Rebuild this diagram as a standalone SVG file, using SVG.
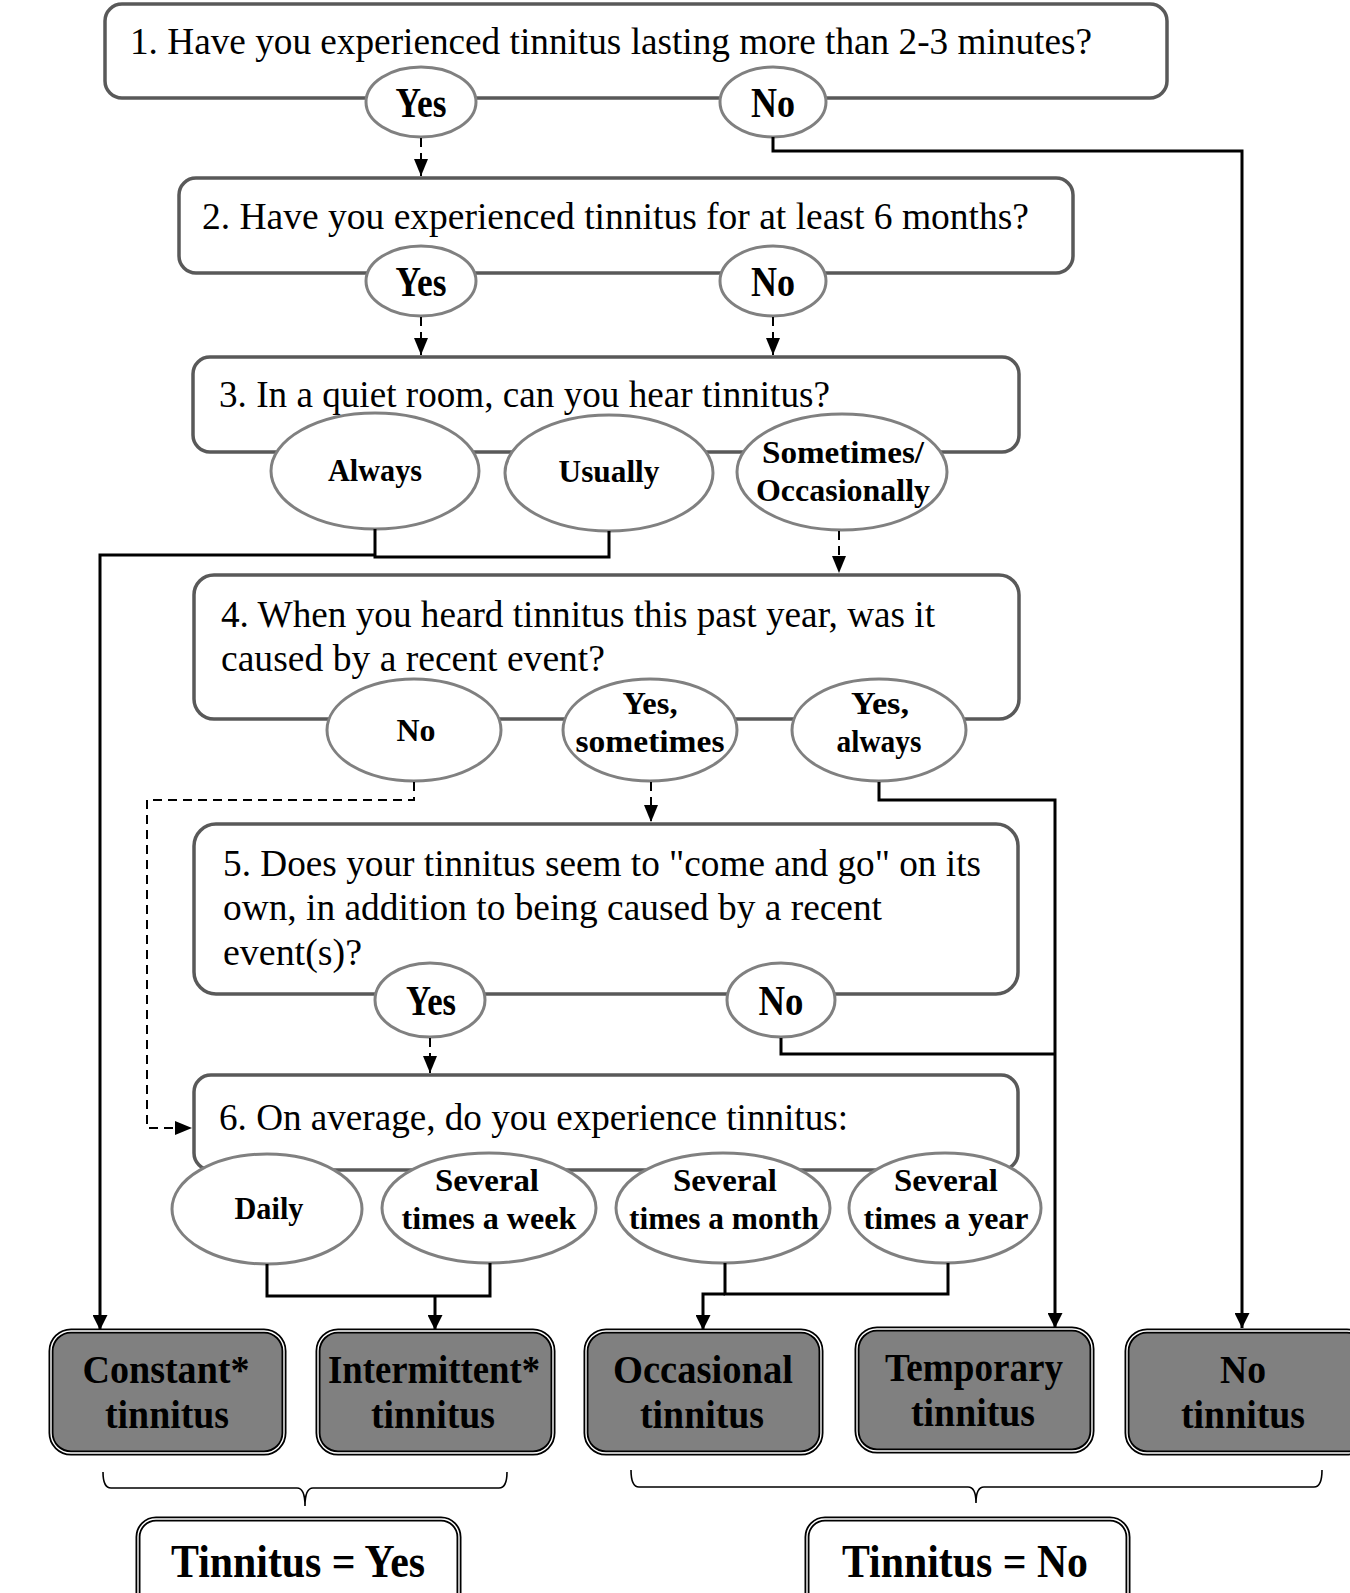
<svg xmlns="http://www.w3.org/2000/svg" width="1350" height="1593" viewBox="0 0 1350 1593">
<defs>
<style>
.q{fill:#fff;stroke:#595959;stroke-width:3.5}
.el{fill:#fff;stroke:#808080;stroke-width:3}
.qt{font-family:"Liberation Serif","Times New Roman",serif;font-size:38.5px;fill:#000}
.lb{font-family:"Liberation Serif","Times New Roman",serif;font-weight:bold;fill:#000;text-anchor:middle}
.big{font-size:42px}
.sm{font-size:31px}
.ob{fill:#808080;stroke:#000;stroke-width:5}
.ow{fill:none;stroke:#fff;stroke-width:1.4}
.rb{fill:#fff;stroke:#000;stroke-width:5}
.ot{font-family:"Liberation Serif","Times New Roman",serif;font-weight:bold;font-size:41px;fill:#000;text-anchor:middle}
.rt{font-family:"Liberation Serif","Times New Roman",serif;font-weight:bold;font-size:46px;fill:#000}
.c{fill:none;stroke:#000;stroke-width:3}
.d{fill:none;stroke:#000;stroke-width:2;stroke-dasharray:9 6}
.br{fill:none;stroke:#000;stroke-width:1.6}
</style>
<marker id="ah" viewBox="0 0 10 10" refX="10" refY="5" markerWidth="5" markerHeight="5" markerUnits="strokeWidth" orient="auto">
<path d="M0,0 L10,5 L0,10 z" fill="#000"/>
</marker>
<marker id="ahd" viewBox="0 0 10 10" refX="10" refY="5" markerWidth="8.5" markerHeight="7" markerUnits="strokeWidth" orient="auto" preserveAspectRatio="none">
<path d="M0,0 L10,5 L0,10 z" fill="#000"/>
</marker>
</defs>

<g id="q1">
<rect class="q" x="105" y="4" width="1062" height="94" rx="17"/>
<text class="qt" x="130" y="54" textLength="962" lengthAdjust="spacingAndGlyphs">1. Have you experienced tinnitus lasting  more than 2-3 minutes?</text>
<g id="q1-yes"><ellipse class="el" cx="421" cy="102" rx="55" ry="35"/><text class="lb big" x="421" y="117" textLength="51" lengthAdjust="spacingAndGlyphs">Yes</text></g>
<g id="q1-no"><ellipse class="el" cx="773" cy="102" rx="53" ry="35"/><text class="lb big" x="773" y="117" textLength="44" lengthAdjust="spacingAndGlyphs">No</text></g>
</g>

<g id="q2">
<rect class="q" x="179" y="178" width="894" height="95" rx="17"/>
<text class="qt" x="202" y="229" textLength="827" lengthAdjust="spacingAndGlyphs">2. Have you experienced tinnitus for at least 6 months?</text>
<g id="q2-yes"><ellipse class="el" cx="421" cy="281" rx="55" ry="35"/><text class="lb big" x="421" y="296" textLength="51" lengthAdjust="spacingAndGlyphs">Yes</text></g>
<g id="q2-no"><ellipse class="el" cx="773" cy="281" rx="53" ry="35"/><text class="lb big" x="773" y="296" textLength="44" lengthAdjust="spacingAndGlyphs">No</text></g>
</g>

<g id="q3">
<rect class="q" x="193" y="357" width="826" height="95" rx="17"/>
<text class="qt" x="219" y="407" textLength="611" lengthAdjust="spacingAndGlyphs">3. In a quiet room, can you hear tinnitus?</text>
<g id="q3-always"><ellipse class="el" cx="375" cy="471" rx="104" ry="58"/><text class="lb sm" x="375" y="481" textLength="94" lengthAdjust="spacingAndGlyphs">Always</text></g>
<g id="q3-usually"><ellipse class="el" cx="609" cy="473" rx="104" ry="58"/><text class="lb sm" x="609" y="482" textLength="101" lengthAdjust="spacingAndGlyphs">Usually</text></g>
<g id="q3-sometimes"><ellipse class="el" cx="842" cy="472" rx="105" ry="58"/><text class="lb sm" x="843" y="463" textLength="162" lengthAdjust="spacingAndGlyphs">Sometimes/</text><text class="lb sm" x="843" y="501" textLength="174" lengthAdjust="spacingAndGlyphs">Occasionally</text></g>
</g>

<g id="q4">
<rect class="q" x="194" y="575" width="825" height="144" rx="20"/>
<text class="qt" x="221" y="627" textLength="714" lengthAdjust="spacingAndGlyphs">4. When you heard tinnitus this past year, was it</text>
<text class="qt" x="221" y="671" textLength="384" lengthAdjust="spacingAndGlyphs">caused by a recent event?</text>
<g id="q4-no"><ellipse class="el" cx="414" cy="730" rx="87" ry="51"/><text class="lb sm" x="416" y="741" textLength="39" lengthAdjust="spacingAndGlyphs">No</text></g>
<g id="q4-sometimes"><ellipse class="el" cx="650" cy="730" rx="87" ry="51"/><text class="lb sm" x="650" y="714" textLength="55" lengthAdjust="spacingAndGlyphs">Yes,</text><text class="lb sm" x="650" y="752" textLength="149" lengthAdjust="spacingAndGlyphs">sometimes</text></g>
<g id="q4-always"><ellipse class="el" cx="879" cy="730" rx="87" ry="51"/><text class="lb sm" x="880" y="714" textLength="58" lengthAdjust="spacingAndGlyphs">Yes,</text><text class="lb sm" x="879" y="752" textLength="85" lengthAdjust="spacingAndGlyphs">always</text></g>
</g>

<g id="q5">
<rect class="q" x="194" y="824" width="824" height="170" rx="22"/>
<text class="qt" x="223" y="876" textLength="758" lengthAdjust="spacingAndGlyphs">5. Does your tinnitus seem to "come and go" on its</text>
<text class="qt" x="223" y="920" textLength="659" lengthAdjust="spacingAndGlyphs">own, in addition to being caused by a recent</text>
<text class="qt" x="223" y="965" textLength="139" lengthAdjust="spacingAndGlyphs">event(s)?</text>
<g id="q5-yes"><ellipse class="el" cx="430" cy="1000" rx="55" ry="37"/><text class="lb big" x="431" y="1015" textLength="50" lengthAdjust="spacingAndGlyphs">Yes</text></g>
<g id="q5-no"><ellipse class="el" cx="781" cy="1000" rx="54" ry="37"/><text class="lb big" x="781" y="1015" textLength="45" lengthAdjust="spacingAndGlyphs">No</text></g>
</g>

<g id="q6">
<rect class="q" x="194" y="1075" width="824" height="95" rx="17"/>
<text class="qt" x="219" y="1130" textLength="629" lengthAdjust="spacingAndGlyphs">6. On average, do you experience tinnitus:</text>
<g id="q6-daily"><ellipse class="el" cx="267" cy="1209" rx="95" ry="55"/><text class="lb sm" x="269" y="1219" textLength="69" lengthAdjust="spacingAndGlyphs">Daily</text></g>
<g id="q6-week"><ellipse class="el" cx="489" cy="1208" rx="107" ry="55"/><text class="lb sm" x="487" y="1191" textLength="104" lengthAdjust="spacingAndGlyphs">Several</text><text class="lb sm" x="489" y="1229" textLength="175" lengthAdjust="spacingAndGlyphs">times a week</text></g>
<g id="q6-month"><ellipse class="el" cx="723" cy="1208" rx="107" ry="55"/><text class="lb sm" x="725" y="1191" textLength="104" lengthAdjust="spacingAndGlyphs">Several</text><text class="lb sm" x="724" y="1229" textLength="190" lengthAdjust="spacingAndGlyphs">times a month</text></g>
<g id="q6-year"><ellipse class="el" cx="945" cy="1208" rx="96" ry="55"/><text class="lb sm" x="946" y="1191" textLength="104" lengthAdjust="spacingAndGlyphs">Several</text><text class="lb sm" x="946" y="1229" textLength="165" lengthAdjust="spacingAndGlyphs">times a year</text></g>
</g>

<g id="out-constant"><rect class="ob" x="51" y="1331" width="233" height="122" rx="20"/><rect class="ow" x="51" y="1331" width="233" height="122" rx="20"/><text class="ot" x="166" y="1383" textLength="167" lengthAdjust="spacingAndGlyphs">Constant*</text><text class="ot" x="167" y="1428" textLength="124" lengthAdjust="spacingAndGlyphs">tinnitus</text></g>
<g id="out-intermittent"><rect class="ob" x="318" y="1331" width="235" height="122" rx="20"/><rect class="ow" x="318" y="1331" width="235" height="122" rx="20"/><text class="ot" x="434" y="1383" textLength="212" lengthAdjust="spacingAndGlyphs">Intermittent*</text><text class="ot" x="433" y="1428" textLength="124" lengthAdjust="spacingAndGlyphs">tinnitus</text></g>
<g id="out-occasional"><rect class="ob" x="586" y="1331" width="235" height="122" rx="20"/><rect class="ow" x="586" y="1331" width="235" height="122" rx="20"/><text class="ot" x="703" y="1383" textLength="180" lengthAdjust="spacingAndGlyphs">Occasional</text><text class="ot" x="702" y="1428" textLength="124" lengthAdjust="spacingAndGlyphs">tinnitus</text></g>
<g id="out-temporary"><rect class="ob" x="857" y="1329" width="235" height="122" rx="20"/><rect class="ow" x="857" y="1329" width="235" height="122" rx="20"/><text class="ot" x="974" y="1381" textLength="178" lengthAdjust="spacingAndGlyphs">Temporary</text><text class="ot" x="973" y="1426" textLength="124" lengthAdjust="spacingAndGlyphs">tinnitus</text></g>
<g id="out-none"><rect class="ob" x="1127" y="1331" width="240" height="122" rx="20"/><rect class="ow" x="1127" y="1331" width="240" height="122" rx="20"/><text class="ot" x="1243" y="1383" textLength="46" lengthAdjust="spacingAndGlyphs">No</text><text class="ot" x="1243" y="1428" textLength="124" lengthAdjust="spacingAndGlyphs">tinnitus</text></g>

<g id="result-yes"><rect class="rb" x="138" y="1519" width="321" height="95" rx="18"/><rect class="ow" x="138" y="1519" width="321" height="95" rx="18"/><text class="rt" x="171" y="1577" textLength="254" lengthAdjust="spacingAndGlyphs">Tinnitus  = Yes</text></g>
<g id="result-no"><rect class="rb" x="807" y="1519" width="321" height="95" rx="18"/><rect class="ow" x="807" y="1519" width="321" height="95" rx="18"/><text class="rt" x="842" y="1577" textLength="246" lengthAdjust="spacingAndGlyphs">Tinnitus  = No</text></g>

<g id="connectors">
<path class="d" d="M421,138 V176" marker-end="url(#ahd)"/>
<path class="c" d="M773,137 V151 H1242 V1328" marker-end="url(#ah)"/>
<path class="d" d="M421,317 V355" marker-end="url(#ahd)"/>
<path class="d" d="M773,317 V355" marker-end="url(#ahd)"/>
<path class="c" d="M375,529 V557 H609 V531"/>
<path class="c" d="M375,555 H100 V1330" marker-end="url(#ah)"/>
<path class="d" d="M839,531 V573" marker-end="url(#ahd)"/>
<path class="d" d="M414,782 V800 H147 V1128 H192" marker-end="url(#ahd)"/>
<path class="d" d="M651,782 V822" marker-end="url(#ahd)"/>
<path class="c" d="M879,782 V800 H1055 V1328" marker-end="url(#ah)"/>
<path class="d" d="M430,1038 V1073" marker-end="url(#ahd)"/>
<path class="c" d="M781,1038 V1054 H1055"/>
<path class="c" d="M267,1264 V1296 H490 V1263"/>
<path class="c" d="M435,1296 V1330" marker-end="url(#ah)"/>
<path class="c" d="M725,1263 V1294 H948 V1263"/>
<path class="c" d="M725,1294 H703 V1330" marker-end="url(#ah)"/>
<path class="br" d="M103,1472 Q103,1488 111,1488 H297 Q305,1488 305,1506 Q305,1488 313,1488 H499 Q507,1488 507,1472"/>
<path class="br" d="M631,1470 Q631,1487 639,1487 H968 Q976,1487 976,1503 Q976,1487 984,1487 H1314 Q1322,1487 1322,1470"/>
</g>
</svg>
